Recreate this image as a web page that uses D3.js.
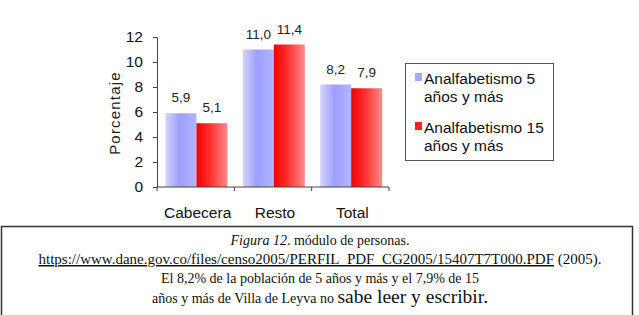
<!DOCTYPE html>
<html><head><meta charset="utf-8">
<script src="https://cdn.jsdelivr.net/npm/d3@7"></script>
<style>
html,body{margin:0;padding:0;background:#fff;}
svg{display:block;}
</style></head>
<body>
<script>
const categories = ["Cabecera", "Resto", "Total"];
const seriesNames = ["Analfabetismo 5 años y más", "Analfabetismo 15 años y más"];
const legendLines = [["Analfabetismo 5", "años y más"], ["Analfabetismo 15", "años y más"]];
const analf5 = [5.9, 11.0, 8.2];
const analf15 = [5.1, 11.4, 7.9];
const yTicks = [0, 2, 4, 6, 8, 10, 12];
const yTitle = "Porcentaje";
const captionLines = [
  [{t:"Figura 12", i:true}, {t:". módulo de personas."}],
  [{t:"https://www.dane.gov.co/files/censo2005/PERFIL_PDF_CG2005/15407T7T000.PDF", u:true}, {t:" (2005)."}],
  [{t:"El 8,2% de la población de 5 años y más y el 7,9% de 15"}],
  [{t:"años y más de Villa de Leyva no "}, {t:"sabe leer y escribir.", big:true}]
];

const W = 639, H = 315;
const svg = d3.select("body").append("svg").attr("width", W).attr("height", H);
const defs = svg.append("defs");
const gb = defs.append("linearGradient").attr("id","gBlue").attr("x1","0").attr("x2","1").attr("y1","0").attr("y2","0");
gb.append("stop").attr("offset","0").attr("stop-color","#d4d4ff");
gb.append("stop").attr("offset","0.45").attr("stop-color","#9e9eff");
gb.append("stop").attr("offset","1").attr("stop-color","#b4b4ff");
const gr = defs.append("linearGradient").attr("id","gRed").attr("x1","0").attr("x2","1").attr("y1","0").attr("y2","0");
gr.append("stop").attr("offset","0").attr("stop-color","#f00000");
gr.append("stop").attr("offset","0.4").attr("stop-color","#ff2a2a");
gr.append("stop").attr("offset","1").attr("stop-color","#ff8a8a");
const fills = ["url(#gBlue)", "url(#gRed)"];
const swatch = ["#a8a8ff", "#ff2020"];

const font = "'Liberation Sans', Arial, sans-serif";
const x0 = 157, x1 = 389, yTop = 37, yBot = 187;
const x = d3.scaleBand().domain(categories).range([x0, x1]).padding(0);
const xs = d3.scaleBand().domain([0,1]).range([8.5, 70.5]).padding(0);
const y = d3.scaleLinear().domain([0, 12]).range([yBot, yTop]);

const data = categories.map((c, i) => ({c, v: [analf5[i], analf15[i]]}));

// bars
const grp = svg.append("g").selectAll("g").data(data).join("g")
  .attr("transform", d => `translate(${x(d.c)},0)`);
grp.selectAll("rect").data(d => d.v.map((v, k) => ({v, k}))).join("rect")
  .attr("x", d => xs(d.k)).attr("width", xs.bandwidth())
  .attr("y", d => y(d.v)).attr("height", d => yBot - y(d.v))
  .attr("fill", d => fills[d.k]);
grp.selectAll("text").data(d => d.v.map((v, k) => ({v, k}))).join("text")
  .attr("x", d => xs(d.k) + xs.bandwidth()/2)
  .attr("y", d => y(d.v) - 11)
  .attr("text-anchor", "middle")
  .style("font-family", font).style("font-size", "13.5px").attr("fill", "#222")
  .text(d => d3.format(".1f")(d.v).replace(".", ","));

// y axis
const yAxis = svg.append("g").attr("transform", `translate(${x0},0)`)
  .call(d3.axisLeft(y).tickValues(yTicks).tickSize(4).tickPadding(10).tickFormat(d => d));
yAxis.select(".domain").attr("stroke", "#444");
yAxis.selectAll(".tick line").attr("stroke", "#444");
yAxis.selectAll("text").style("font-family", font).style("font-size", "15.5px").attr("fill", "#111");

// x axis
const xAxisG = svg.append("g").attr("transform", `translate(0,${yBot})`);
xAxisG.append("line").attr("x1", x0).attr("x2", x1).attr("stroke", "#444");
xAxisG.selectAll("line.tk").data(categories.concat(["_end"])).join("line").attr("class","tk")
  .attr("x1", (d,i) => i < categories.length ? x(d) : x1)
  .attr("x2", (d,i) => i < categories.length ? x(d) : x1)
  .attr("y1", 0).attr("y2", 4).attr("stroke", "#444");
xAxisG.selectAll("text").data(categories).join("text")
  .attr("x", d => x(d) + x.bandwidth()/2 + 2).attr("y", 31)
  .attr("text-anchor", "middle")
  .style("font-family", font).style("font-size", "15.5px").attr("fill", "#111")
  .text(d => d);

// y title
svg.append("text").attr("transform", `translate(120,${(yTop+yBot)/2 + 1}) rotate(-90)`)
  .attr("text-anchor", "middle")
  .style("font-family", font).style("font-size", "15px").style("letter-spacing", "1.2px").attr("fill", "#222")
  .text(yTitle);

// legend
const lg = svg.append("g");
lg.append("rect").attr("x", 405.5).attr("y", 63.5).attr("width", 148).attr("height", 97)
  .attr("fill", "#fff").attr("stroke", "#555").attr("stroke-width", 1);
legendLines.forEach((lines, k) => {
  const by = 84 + k * 49;
  lg.append("rect").attr("x", 415).attr("y", by - 11).attr("width", 7).attr("height", 8).attr("fill", swatch[k]);
  lines.forEach((ln, j) => {
    lg.append("text").attr("x", 424).attr("y", by + j * 18)
      .style("font-family", font).style("font-size", "15.5px").attr("fill", "#111").text(ln);
  });
});

// caption box
svg.append("path").attr("d", "M1.5,315 V226.5 H632.5 V315").attr("fill", "none").attr("stroke", "#333").attr("stroke-width", 1.5);
const serif = "'Liberation Serif', 'Times New Roman', serif";
const cy = [245, 264, 283, 303];
const cs = ["14px", "15px", "14px", "14px"];
captionLines.forEach((parts, i) => {
  const t = svg.append("text").attr("x", 320).attr("y", cy[i]).attr("text-anchor", "middle")
    .style("font-family", serif).style("font-size", cs[i]).attr("fill", "#111");
  parts.forEach(p => {
    const s = t.append("tspan").text(p.t);
    if (p.i) s.style("font-style", "italic");
    if (p.u) s.style("text-decoration", "underline");
    if (p.big) s.style("font-size", "19.5px");
  });
});
</script>
</body></html>
